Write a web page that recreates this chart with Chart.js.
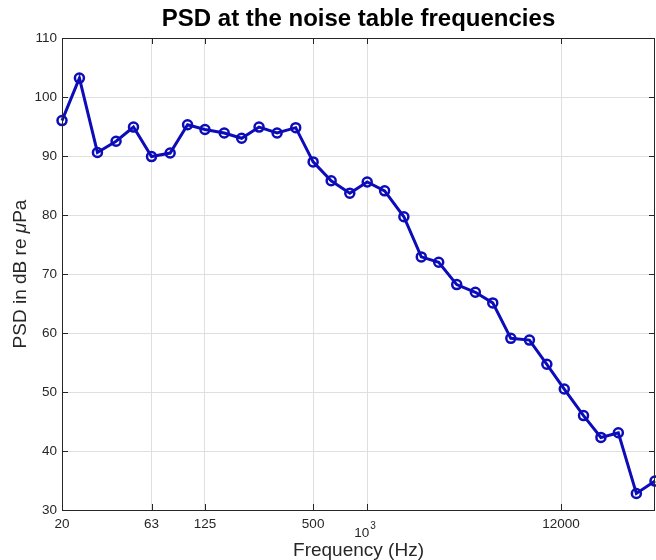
<!DOCTYPE html>
<html>
<head>
<meta charset="utf-8">
<title>PSD at the noise table frequencies</title>
<script src="https://cdn.jsdelivr.net/npm/chart.js@4.4.1/dist/chart.umd.min.js"></script>
<style>
    html, body { margin: 0; padding: 0; background: #fff; }
    #psdChart { display: block; }
</style>
</head>
<body>
<canvas id="psdChart" width="656" height="560"></canvas>
<script>
// third-octave band centre frequencies (Hz)
const freqs = [20, 25, 31.5, 40, 50, 63, 80, 100, 125, 160, 200, 250, 315, 400, 500,
    630, 800, 1000, 1250, 1600, 2000, 2500, 3150, 4000, 5000, 6300, 8000, 10000,
    12500, 16000, 20000, 25000, 31500, 40000];

// PSD level per band (dB re uPa)
const psdLevels = [96.0, 103.2, 90.6, 92.5, 94.9, 89.9, 90.5, 95.3, 94.5, 93.9, 93.0,
    94.9, 93.9, 94.8, 89.0, 85.8, 83.7, 85.6, 84.1, 79.7, 72.9, 72.0, 68.2, 66.9,
    65.1, 59.1, 58.8, 54.7, 50.5, 46.0, 42.3, 43.1, 32.8, 34.9];

const xTickValues = [20, 63, 125, 500, 1000, 12000];
const yTickValues = [30, 40, 50, 60, 70, 80, 90, 100, 110];

const FONT = "'Liberation Sans', Arial, Helvetica, sans-serif";
const AXIS_COLOR = "#262626";
const GRID_COLOR = "#dfdfdf";
const LINE_COLOR = "#0c0cb8";

/* box round the axes, inward ticks, titles and the 10^3 label */
const matlabAxes = {
    id: "matlabAxes",
    afterDraw(chart) {
        const { ctx, chartArea: a, scales: { x, y } } = chart;
        ctx.save();

        ctx.strokeStyle = AXIS_COLOR;
        ctx.lineWidth = 1;
        ctx.strokeRect(a.left + 0.5, a.top + 0.5, a.right - a.left - 1, a.bottom - a.top);

        const tl = 6;
        ctx.beginPath();
        xTickValues.forEach(v => {
            const px = Math.round(x.getPixelForValue(v)) + 0.5;
            ctx.moveTo(px, a.bottom); ctx.lineTo(px, a.bottom - tl);
            ctx.moveTo(px, a.top); ctx.lineTo(px, a.top + tl);
        });
        yTickValues.forEach(v => {
            const py = Math.round(y.getPixelForValue(v)) + 0.5;
            ctx.moveTo(a.left, py); ctx.lineTo(a.left + tl, py);
            ctx.moveTo(a.right, py); ctx.lineTo(a.right - tl, py);
        });
        ctx.stroke();

        // 10^3 tick label
        const p3 = x.getPixelForValue(1000);
        ctx.fillStyle = AXIS_COLOR;
        ctx.font = `13.5px ${FONT}`;
        ctx.textBaseline = "alphabetic";
        ctx.textAlign = "right";
        ctx.fillText("10", p3 + 2, a.bottom + 27);
        ctx.font = `10px ${FONT}`;
        ctx.textAlign = "left";
        ctx.fillText("3", p3 + 3, a.bottom + 19);

        // title
        const cx = (a.left + a.right) / 2;
        ctx.fillStyle = "#000";
        ctx.font = `bold 24px ${FONT}`;
        ctx.textAlign = "center";
        ctx.fillText("PSD at the noise table frequencies", cx, 26);

        // x axis title
        ctx.fillStyle = AXIS_COLOR;
        ctx.font = `19px ${FONT}`;
        ctx.fillText("Frequency (Hz)", cx, 556);

        // y axis title, with an italic mu
        ctx.translate(26, (a.top + a.bottom) / 2);
        ctx.rotate(-Math.PI / 2);
        const parts = [
            { t: "PSD in dB re ", f: `19px ${FONT}` },
            { t: "\u03bc", f: `italic 19px ${FONT}` },
            { t: "Pa", f: `19px ${FONT}` }
        ];
        let total = 0;
        parts.forEach(p => { ctx.font = p.f; p.w = ctx.measureText(p.t).width; total += p.w; });
        let pos = -total / 2;
        ctx.textAlign = "left";
        parts.forEach(p => { ctx.font = p.f; ctx.fillText(p.t, pos, 0); pos += p.w; });

        ctx.restore();
    }
};

new Chart(document.getElementById("psdChart"), {
    type: "line",
    data: {
        datasets: [{
            data: freqs.map((f, i) => ({ x: f, y: psdLevels[i] })),
            borderColor: LINE_COLOR,
            borderWidth: 3,
            pointRadius: 4.5,
            pointBorderWidth: 2.5,
            pointBorderColor: LINE_COLOR,
            pointBackgroundColor: "rgba(0,0,0,0)",
            tension: 0,
            clip: false
        }]
    },
    options: {
        responsive: false,
        animation: false,
        devicePixelRatio: 1,
        layout: { autoPadding: false, padding: { top: 38, right: 1, left: 0, bottom: 0 } },
        plugins: {
            legend: { display: false },
            tooltip: { enabled: false },
            title: { display: false }
        },
        scales: {
            x: {
                type: "logarithmic",
                min: 20,
                max: 40000,
                afterBuildTicks: sc => { sc.ticks = xTickValues.map(v => ({ value: v })); },
                afterFit: sc => { sc.height = 50; },
                ticks: {
                    autoSkip: false,
                    maxRotation: 0,
                    padding: 6,
                    color: AXIS_COLOR,
                    font: { family: FONT, size: 13.5 },
                    callback: v => (v === 1000 ? "" : String(v))
                },
                grid: { color: GRID_COLOR, drawTicks: false },
                border: { display: false }
            },
            y: {
                min: 30,
                max: 110,
                afterBuildTicks: sc => { sc.ticks = yTickValues.map(v => ({ value: v })); },
                afterFit: sc => { sc.width = 62; },
                ticks: {
                    padding: 5,
                    color: AXIS_COLOR,
                    font: { family: FONT, size: 13.5 }
                },
                grid: { color: GRID_COLOR, drawTicks: false },
                border: { display: false }
            }
        }
    },
    plugins: [matlabAxes]
});
</script>
</body>
</html>
